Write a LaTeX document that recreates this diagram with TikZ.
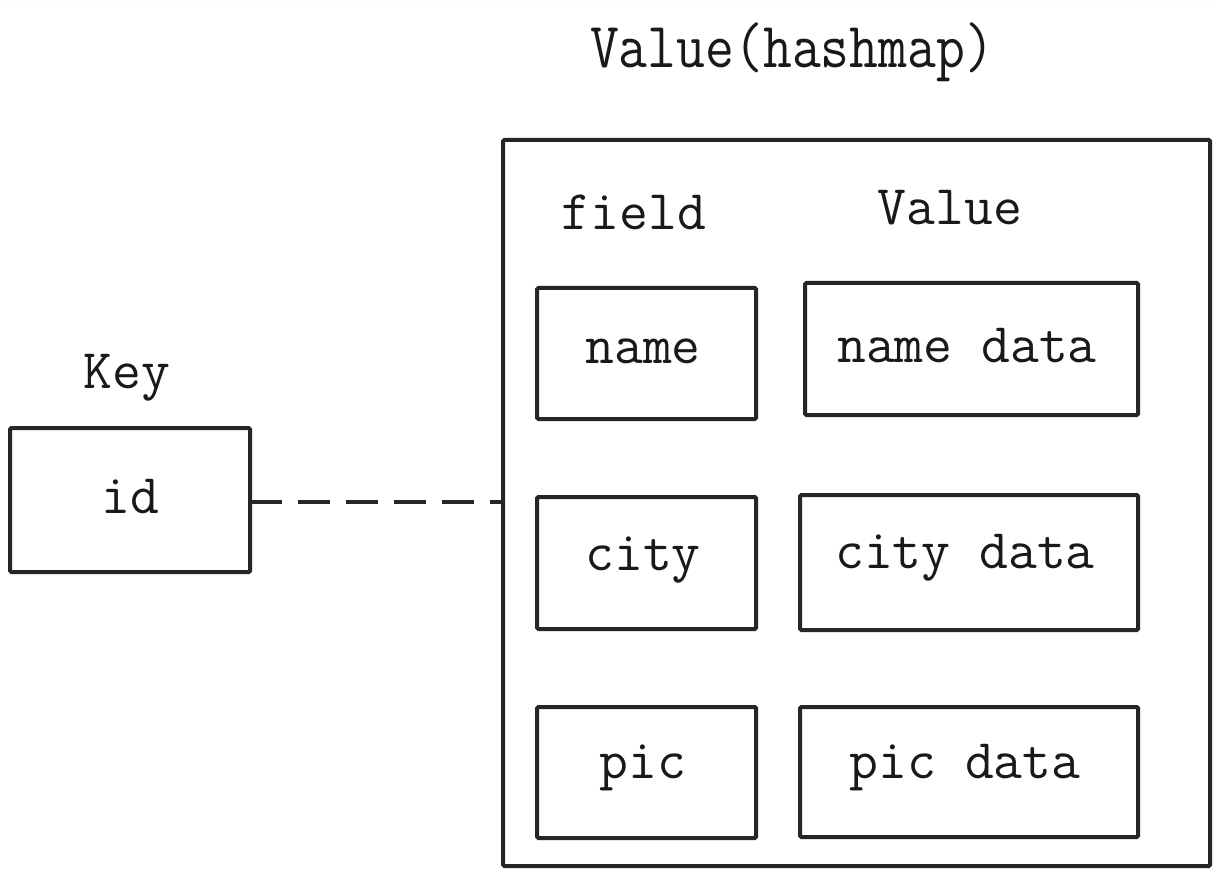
\documentclass[tikz,border=0pt]{standalone}
\usepackage{fontspec}
\begin{document}
\begin{tikzpicture}[x=0.75pt,y=-0.75pt,
  box/.style={draw=black!85,line width=3pt,rounded corners=1pt},
  lbl/.style={font=\ttfamily\fontsize{42}{46}\selectfont,inner sep=0pt,text=black!90},
  ttl/.style={font=\ttfamily\fontsize{42}{46}\selectfont,inner sep=0pt,text=black!90,yscale=1.15}]
\useasboundingbox (0,0) rectangle (1213,880);
\fill[white] (0,0) rectangle (1213,880);
\fill[black!4!yellow!4!white] (0,0) rectangle (1213,3);
% title
\node[ttl] (title) at (792,52) {Value(hashmap)};
% key
\node[lbl] (keylbl) at (127,378) {Key};
\draw[box] (10,428) rectangle (250,572);
\node (idbox) [minimum width=240*0.75pt, minimum height=144*0.75pt, inner sep=0pt] at (130,500) {};
\node[lbl] (id) at (130,497) {id};
% hash box
\draw[box] (503,140) rectangle (1210,866);
\node (hash) [minimum width=707*0.75pt, minimum height=726*0.75pt, inner sep=0pt] at (856.5,503) {};
\node[lbl] (field) at (634,212) {field};
\node[lbl] (value) at (950,208) {Value};
% rows
\draw[box] (537,288) rectangle (756,419);
\node[lbl] (name) at (643,351) {name};
\draw[box] (805,283) rectangle (1138,415);
\node[lbl] (namedata) at (967,346) {name data};
\draw[box] (537,497) rectangle (756,629);
\node[lbl] (city) at (643,560) {city};
\draw[box] (800,495) rectangle (1138,630);
\node[lbl] (citydata) at (965,558) {city data};
\draw[box] (537,707) rectangle (756,838);
\node[lbl] (pic) at (643,768) {pic};
\draw[box] (800,707) rectangle (1138,837);
\node[lbl] (picdata) at (965,768) {pic data};
% dashed connector
\draw[line width=3pt,draw=black!85,dash pattern=on 24pt off 12pt] (idbox.east|-0,502) -- (hash.west|-0,502);
\end{tikzpicture}
\end{document}
